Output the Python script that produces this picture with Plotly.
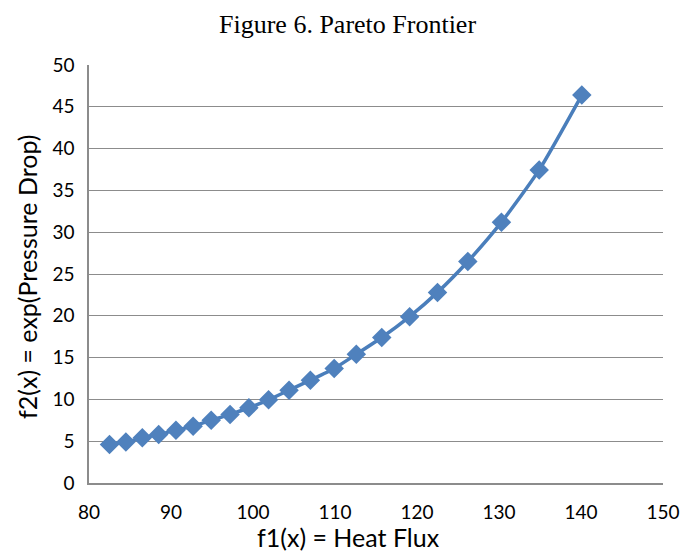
import plotly.graph_objects as go

heat_flux = [82.5, 84.5, 86.5, 88.5, 90.6, 92.7, 94.9, 97.2, 99.5, 101.9, 104.4,
             107.0, 109.9, 112.6, 115.7, 119.1, 122.5, 126.2, 130.3, 134.9, 140.1]
pressure = [4.6, 4.9, 5.4, 5.8, 6.3, 6.8, 7.5, 8.2, 9.0, 9.95, 11.1,
            12.3, 13.7, 15.4, 17.4, 19.9, 22.8, 26.5, 31.2, 37.45, 46.4]

x_ticks = [80, 90, 100, 110, 120, 130, 140, 150]
y_ticks = [0, 5, 10, 15, 20, 25, 30, 35, 40, 45, 50]

fig = go.Figure()
fig.add_trace(go.Scatter(
    x=heat_flux, y=pressure, mode="lines+markers",
    line=dict(color="#4A7EBB", width=3.5, shape="spline", smoothing=0.6),
    marker=dict(symbol="diamond", size=15, color="#4F81BD"),
    showlegend=False,
))

grid = "#8c8c8c"
fig.update_layout(
    width=681, height=551,
    margin=dict(l=89, r=18, t=65, b=68, autoexpand=False),
    paper_bgcolor="white", plot_bgcolor="white",
    font=dict(family="Lato", size=19, color="#000000"),
    xaxis=dict(range=[80, 150], tickvals=x_ticks, showgrid=False,
               showline=True, linecolor=grid, linewidth=1.5, ticks="",
               zeroline=False, ticklabelstandoff=11, automargin=False),
    yaxis=dict(range=[0, 50], tickvals=y_ticks, showgrid=True, gridcolor=grid,
               gridwidth=1, showline=True, linecolor=grid, linewidth=1.5,
               ticks="", zeroline=False, ticklabelstandoff=9, automargin=False),
    annotations=[
        dict(text="Figure 6. Pareto Frontier", x=347, y=25, showarrow=False,
             font=dict(family="Liberation Serif", size=26)),
        dict(text="f1(x) = Heat Flux", x=348, y=537, showarrow=False,
             font=dict(family="Lato", size=25)),
        dict(text="f2(x) = exp(Pressure Drop)", x=27, y=277, showarrow=False,
             textangle=-90, font=dict(family="Lato", size=25)),
    ],
)
# convert pixel positions for annotations to paper coords
W, H = 681, 551
l, r, t, b = 89, 18, 65, 68
pw, ph = W - l - r, H - t - b
new = []
for a in fig.layout.annotations:
    px, py = a.x, a.y
    a.update(xref="paper", yref="paper", x=(px - l) / pw, y=1 - (py - t) / ph,
             xanchor="center", yanchor="middle")
    new.append(a)
fig.layout.annotations = new

fig.write_html("out.html")
